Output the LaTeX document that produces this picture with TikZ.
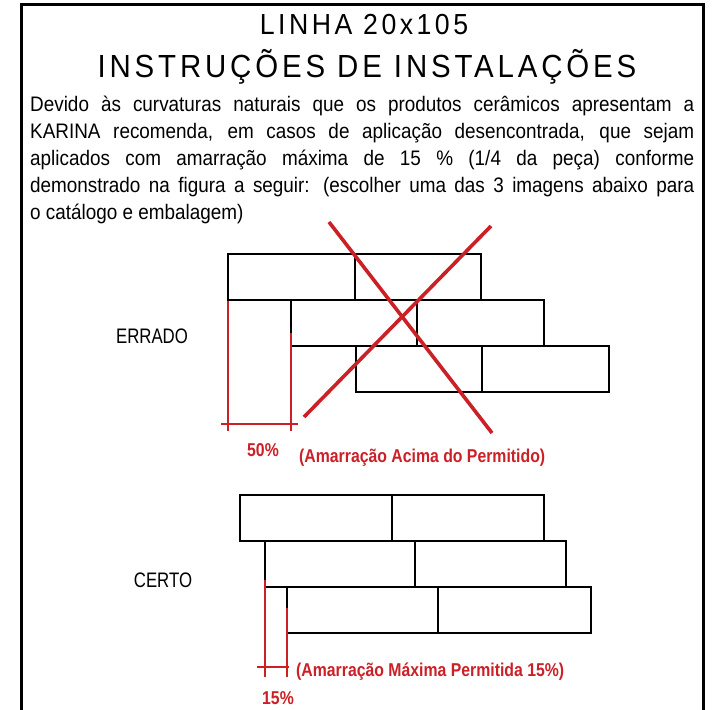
\documentclass[tikz,border=0pt]{standalone}
\usepackage{fontspec}
\setmainfont{Liberation Sans}
\newfontfamily\titlefont[LetterSpace=12,FakeStretch=0.92]{Liberation Sans}
\newfontfamily\bodyfont[FakeStretch=0.9]{Liberation Sans}
\newfontfamily\labelfont[FakeStretch=0.8]{Liberation Sans}
\newfontfamily\redfont[FakeStretch=0.85]{Liberation Sans Bold}
\definecolor{warnred}{RGB}{204,32,39}
\begin{document}
\begin{tikzpicture}[x=1pt,y=-1pt,
  frame/.style={line width=3pt,black},
  brick/.style={line width=2pt,black},
  dim/.style={line width=1.4pt,warnred},
  cross/.style={line width=3.6pt,warnred},
  sidelabel/.style={inner sep=0pt,font=\labelfont\fontsize{21}{21}\selectfont},
  redlabel/.style={inner sep=0pt,text=warnred,font=\redfont\fontsize{18.6}{18.6}\selectfont}]
\useasboundingbox (0,0) rectangle (716,710);
\fill[white] (0,0) rectangle (716,710);
% frame
\draw[frame] (21.5,710) -- (21.5,4) -- (703,4) -- (703,710);
% title
\node[inner sep=0pt,anchor=base,font=\titlefont\fontsize{29}{29}\selectfont] (t1) at (364,34) {LINHA 20x105};
\node[inner sep=0pt,anchor=base,font=\titlefont\fontsize{32}{32}\selectfont] (t2) at (367,77) {INSTRUÇÕES DE INSTALAÇÕES};
% body
\node[inner sep=0pt,anchor=base west] (body) at (30,111) {\parbox[t]{664pt}{\bodyfont\fontsize{21}{27}\selectfont\parindent=0pt\emergencystretch=3em
Devido às curvaturas naturais que os produtos cerâmicos apresentam a\linebreak
KARINA recomenda, em casos de aplicação desencontrada, que sejam\linebreak
aplicados com amarração máxima de 15 \% (1/4 da peça) conforme\linebreak
demonstrado na figura a seguir: (escolher uma das 3 imagens abaixo para\linebreak
o catálogo e embalagem)}};
% ERRADO
\node[sidelabel] (errado) at (152,336) {ERRADO};
\draw[brick] (228,254) rectangle (355,300);
\draw[brick] (355,254) rectangle (481,300);
\draw[brick] (291,300) rectangle (417,346);
\draw[brick] (417,300) rectangle (544,346);
\draw[brick] (356,346) rectangle (482,392);
\draw[brick] (482,346) rectangle (609,392);
\draw[dim] (228,301) -- (228,431);
\draw[dim] (291,333) -- (291,431);
\draw[dim] (221,424) -- (298,424);
\draw[cross] (329,222) -- (492,433);
\draw[cross] (491,226) -- (304,417);
\node[redlabel] (p50) at (263,450) {50\%};
\node[redlabel,anchor=west] (wrong) at (299,458) {(Amarração Acima do Permitido)};
% CERTO
\node[sidelabel] (certo) at (163,580) {CERTO};
\draw[brick] (240,495) rectangle (392,541);
\draw[brick] (392,495) rectangle (544,541);
\draw[brick] (265,541) rectangle (415,587);
\draw[brick] (415,541) rectangle (566,587);
\draw[brick] (287,587) rectangle (438,633);
\draw[brick] (438,587) rectangle (591,633);
\draw[dim] (265,580) -- (265,677);
\draw[dim] (287,608) -- (287,677);
\draw[dim] (257,667) -- (289,667);
\node[redlabel,anchor=west] (right) at (296,672) {(Amarração Máxima Permitida 15\%)};
\node[redlabel] (p15) at (278,698) {15\%};
\end{tikzpicture}
\end{document}
